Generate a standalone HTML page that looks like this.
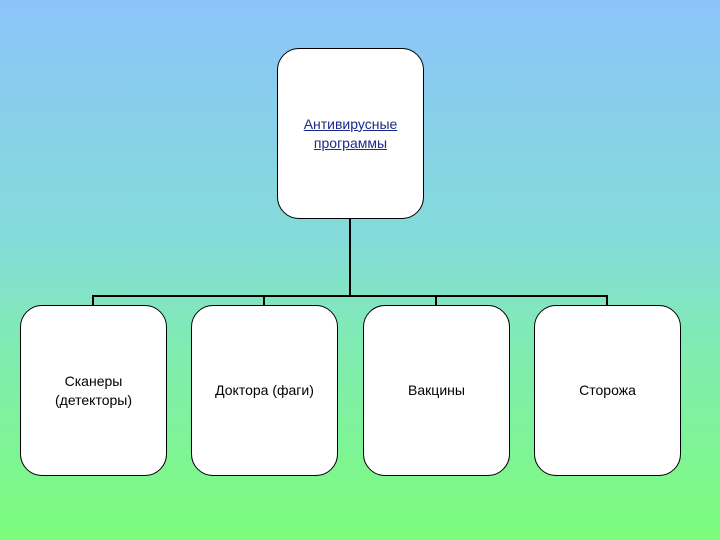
<!DOCTYPE html>
<html><head><meta charset="utf-8"><style>
html,body{margin:0;padding:0}
body{width:720px;height:540px;position:relative;overflow:hidden;background:linear-gradient(to bottom,#8cc4fa 0%,#84dcd8 45%,#80ecb0 65%,#7cfc7c 100%);font-family:"Liberation Sans",sans-serif;}
.b{position:absolute;background:#fff;border:1.5px solid #000;border-radius:22px;box-sizing:border-box;display:flex;align-items:center;justify-content:center;text-align:center;font-size:14px;color:#000;line-height:19px}
.l{position:absolute;background:#000}
</style></head><body>
<div class="l" style="left:349px;top:218px;width:2px;height:79px"></div>
<div class="l" style="left:92px;top:295px;width:516px;height:2px"></div>
<div class="l" style="left:92px;top:295px;width:2px;height:11px"></div>
<div class="l" style="left:263px;top:295px;width:2px;height:11px"></div>
<div class="l" style="left:435px;top:295px;width:2px;height:11px"></div>
<div class="l" style="left:606px;top:295px;width:2px;height:11px"></div>
<div class="b" style="left:277px;top:48px;width:147px;height:171px;color:#1a2a8a;text-decoration:underline">Антивирусные<br>программы</div>
<div class="b" style="left:20px;top:305px;width:147px;height:171px">Сканеры<br>(детекторы)</div>
<div class="b" style="left:191px;top:305px;width:147px;height:171px">Доктора (фаги)</div>
<div class="b" style="left:363px;top:305px;width:147px;height:171px">Вакцины</div>
<div class="b" style="left:534px;top:305px;width:147px;height:171px">Сторожа</div>
</body></html>
